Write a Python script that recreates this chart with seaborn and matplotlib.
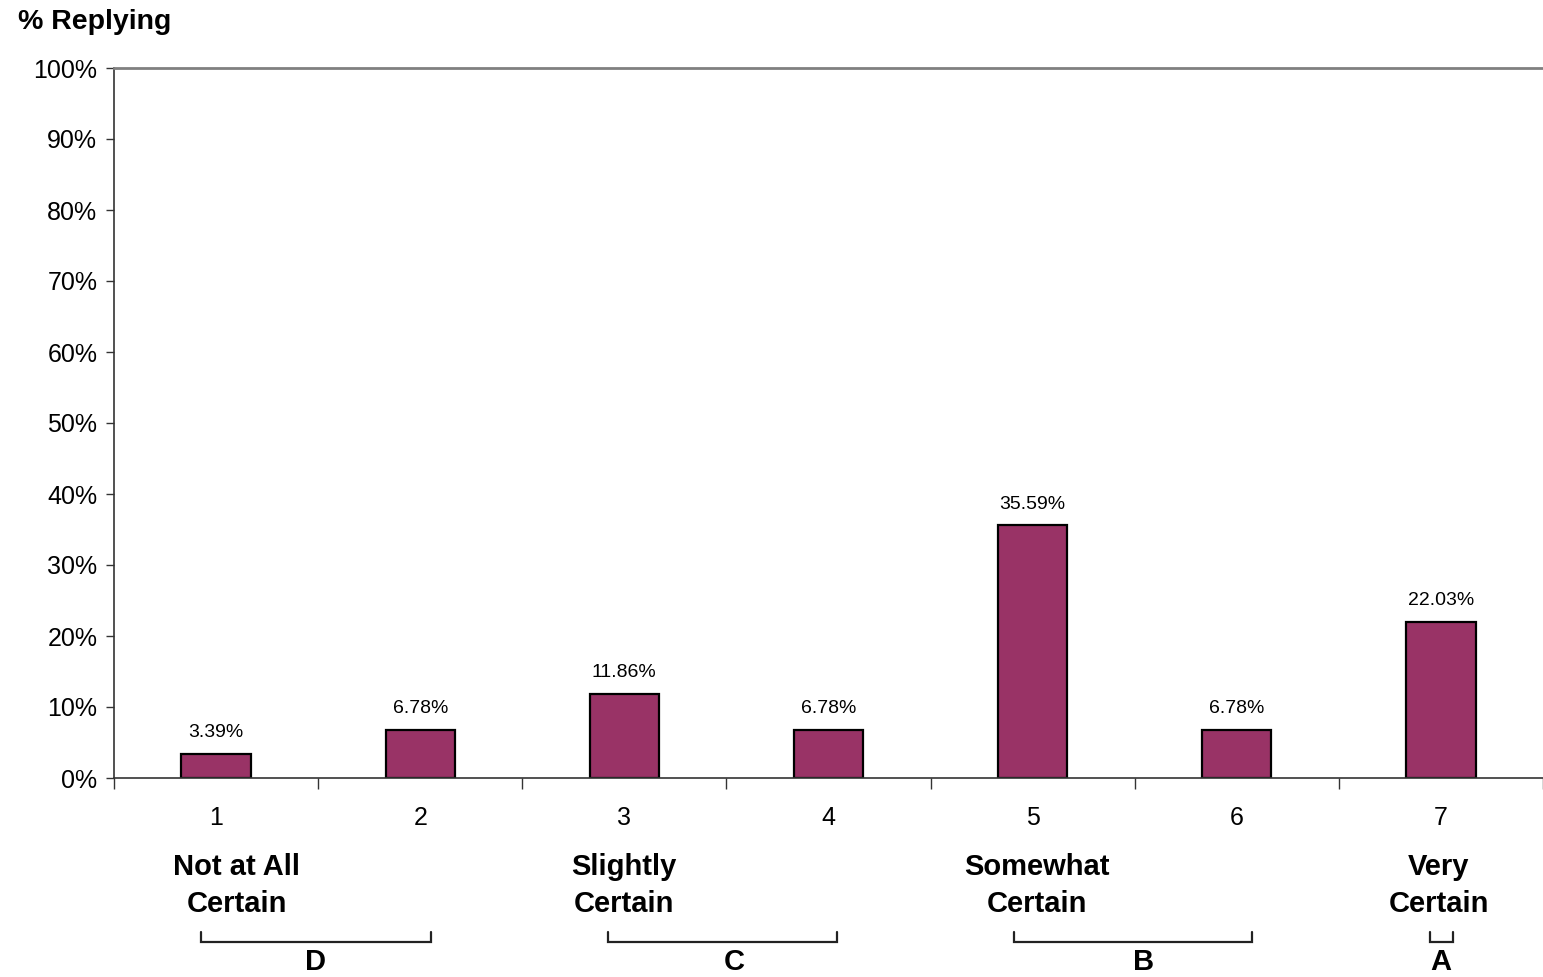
import matplotlib
matplotlib.use("Agg")
import matplotlib.pyplot as plt
from matplotlib.ticker import FixedLocator, PercentFormatter
import seaborn as sns
import pandas as pd

# Survey responses on a 7-point certainty scale
ratings = ["1", "2", "3", "4", "5", "6", "7"]
pct_replying = [3.39, 6.78, 11.86, 6.78, 35.59, 6.78, 22.03]
value_labels = ["3.39%", "6.78%", "11.86%", "6.78%", "35.59%", "6.78%", "22.03%"]

# Descriptive anchors under the scale
anchor_text = ["Not at All\nCertain", "Slightly\nCertain", "Somewhat\nCertain", "Very\nCertain"]
anchor_x = [0.10, 2.00, 4.02, 5.99]

# Grouped ranges (letter, start, end, letter position) in category units
groups = ["D", "C", "B", "A"]
group_start = [-0.074, 1.92, 3.91, 5.947]
group_end = [1.053, 3.042, 5.075, 6.059]
group_label_x = [0.485, 2.537, 4.541, 6.0]

df = pd.DataFrame({"rating": ratings, "pct": pct_replying})

sns.set_style("white")
plt.rcParams["font.family"] = ["Liberation Sans", "DejaVu Sans"]
plt.rcParams["text.color"] = "black"
plt.rcParams["xtick.color"] = "black"
plt.rcParams["ytick.color"] = "black"

fig = plt.figure(figsize=(15.43, 9.77), dpi=100)
ax = fig.add_axes([114 / 1543, 1 - 778 / 977, 1 - 114 / 1543, 710 / 977])

sns.barplot(data=df, x="rating", y="pct", color="#993366", width=0.34,
            edgecolor="black", linewidth=1.6, saturation=1, ax=ax)

ax.set_xlim(-0.5, 6.5)
ax.set_ylim(0, 100)
ax.set_xlabel("")
ax.set_ylabel("")

# y axis
ax.set_yticks(range(0, 101, 10))
ax.yaxis.set_major_formatter(PercentFormatter(decimals=0))
ax.tick_params(axis="y", which="major", left=True, length=6, width=1,
               color="#333333", labelcolor="black", labelsize=18, pad=6)

# x axis: labels at bar centres, tick marks at category boundaries
ax.set_xticks(range(7))
ax.set_xticklabels(ratings)
ax.xaxis.set_minor_locator(FixedLocator([k + 0.5 for k in range(-1, 7)]))
ax.tick_params(axis="x", which="major", bottom=True, length=0, labelsize=18,
               labelcolor="black", pad=20)
ax.tick_params(axis="x", which="minor", bottom=True, length=8, width=1, color="#333333")

for side in ["left", "bottom"]:
    ax.spines[side].set_color("#333333")
    ax.spines[side].set_linewidth(1.2)
ax.spines["top"].set_color("#808080")
ax.spines["top"].set_linewidth(2)
ax.spines["right"].set_visible(False)

# value labels above bars
for i, (v, lab) in enumerate(zip(pct_replying, value_labels)):
    ax.text(i, v + 1.8, lab, ha="center", va="bottom", fontsize=14, color="black")

trans = ax.get_xaxis_transform()

for x, t in zip(anchor_x, anchor_text):
    ax.text(x, -0.151, t, transform=trans, ha="center", va="center",
            fontsize=21, fontweight="bold", linespacing=1.42, clip_on=False,
            color="black")

for x0, x1 in zip(group_start, group_end):
    ax.plot([x0, x0, x1, x1], [-0.217, -0.231, -0.231, -0.217], transform=trans,
            color="#222222", lw=1.6, clip_on=False, solid_joinstyle="miter")
for g, gx in zip(groups, group_label_x):
    ax.text(gx, -0.259, g, transform=trans, ha="center", va="center",
            fontsize=21, fontweight="bold", clip_on=False, color="black")

fig.text(18 / 1543, 1 - 22 / 977, "% Replying", ha="left", va="center",
         fontsize=20.5, fontweight="bold", color="black")

fig.savefig("out.png", dpi=100)
